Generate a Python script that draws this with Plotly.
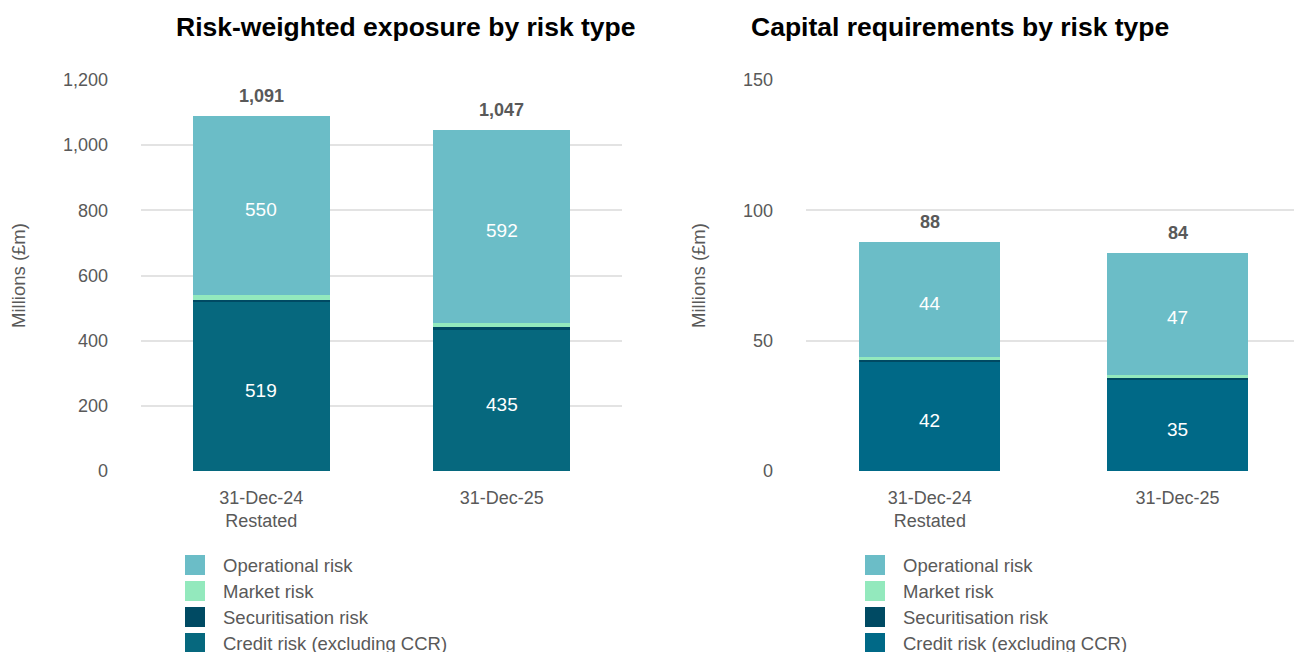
import plotly.graph_objects as go
from plotly.subplots import make_subplots

# Reporting dates
periods = ["31-Dec-24<br>Restated", "31-Dec-25"]

# Risk-weighted exposure (£m) by risk type
rwe_credit = [519, 435]
rwe_securitisation = [5, 6]
rwe_market = [17, 14]
rwe_operational = [550, 592]

# Capital requirements (£m) by risk type
cap_credit = [42, 35]
cap_securitisation = [0.5, 0.5]
cap_market = [1.3, 1.3]
cap_operational = [44, 47]

risk_names = ["Credit risk (excluding CCR)", "Securitisation risk", "Market risk", "Operational risk"]
left_colors = ["#06687e", "#004a63", "#93e9bd", "#6bbdc7"]
right_colors = ["#006987", "#004a63", "#93e9bd", "#6bbdc7"]
label_shown = [True, False, False, True]

FONT = "Liberation Sans, Arial, sans-serif"
GREY = "#595959"

W, H = 1294, 652
TOP, BOTTOM = 80, 471  # plot area pixel rows


def px(x):
    return x / W


def py(y):
    return (BOTTOM - y) / (BOTTOM - TOP)


fig = make_subplots(rows=1, cols=2, horizontal_spacing=0.14)


def add_stack(col, series, colors):
    xref = "x" if col == 1 else "x2"
    yref = "y" if col == 1 else "y2"
    base = [0.0] * len(periods)
    for name, vals, color, show in zip(risk_names, series, colors, label_shown):
        fig.add_trace(
            go.Bar(x=periods, y=vals, name=name, marker_color=color,
                   marker_line_width=0, showlegend=False, hoverinfo="y+name"),
            row=1, col=col,
        )
        if show:
            # value label in the middle of its segment
            for p, b, v in zip(periods, base, vals):
                fig.add_annotation(x=p, y=b + v / 2, xref=xref, yref=yref,
                                   text=f"{v:,.0f}", showarrow=False,
                                   yanchor="middle", yshift=-4,
                                   font=dict(color="white", size=19, family=FONT))
        base = [b + v for b, v in zip(base, vals)]
    for p, t in zip(periods, base):
        fig.add_annotation(x=p, y=t, xref=xref, yref=yref, text=f"<b>{t:,.0f}</b>",
                           showarrow=False, yanchor="middle", yshift=20,
                           font=dict(color=GREY, size=18, family=FONT))


add_stack(1, [rwe_credit, rwe_securitisation, rwe_market, rwe_operational], left_colors)
add_stack(2, [cap_credit, cap_securitisation, cap_market, cap_operational], right_colors)

fig.update_layout(
    width=W, height=H,
    barmode="stack", bargap=0.43,
    plot_bgcolor="white", paper_bgcolor="white",
    margin=dict(l=0, r=0, t=TOP, b=H - BOTTOM),
    font=dict(family=FONT, color=GREY, size=18),
    showlegend=False,
)
fig.update_xaxes(showgrid=False, showline=False, ticks="", tickfont=dict(size=18, color=GREY),
                 ticklabelstandoff=14)
fig.update_yaxes(
    showgrid=True, gridcolor="#e3e3e3", gridwidth=1.5, zeroline=False, showline=False,
    ticks="", tickfont=dict(size=18, color=GREY), ticklabelstandoff=32,
    title=dict(text="Millions (£m)", font=dict(size=18.5, color=GREY), standoff=32),
)
fig.update_layout(
    xaxis=dict(domain=[px(141), px(622)], range=[-0.5, 1.5]),
    xaxis2=dict(domain=[px(806), 1.0], range=[-0.5, 1.47]),
    yaxis=dict(range=[0, 1200], dtick=200, tickformat=","),
    yaxis2=dict(range=[0, 150], dtick=50),
)

# Titles
fig.add_annotation(text="<b>Risk-weighted exposure by risk type</b>", x=px(405), y=py(27),
                   xref="paper", yref="paper", showarrow=False,
                   xanchor="center", yanchor="middle",
                   font=dict(size=26.5, color="black", family=FONT))
fig.add_annotation(text="<b>Capital requirements by risk type</b>", x=px(960), y=py(27),
                   xref="paper", yref="paper", showarrow=False,
                   xanchor="center", yanchor="middle",
                   font=dict(size=26.5, color="black", family=FONT))


# Legends drawn as swatches with labels
def add_legend(x0, colors):
    order = [3, 2, 1, 0]
    for i, idx in enumerate(order):
        yc = 565 + 26 * i
        fig.add_shape(type="rect", xref="paper", yref="paper",
                      x0=px(x0), x1=px(x0 + 20),
                      y0=py(yc + 10), y1=py(yc - 10),
                      fillcolor=colors[idx], line_width=0)
        fig.add_annotation(text=risk_names[idx], x=px(x0 + 36), y=py(yc),
                           xref="paper", yref="paper", xanchor="left", yanchor="middle",
                           showarrow=False, font=dict(size=18.5, color=GREY, family=FONT))


add_legend(185, left_colors)
add_legend(865, right_colors)

fig.write_html("out.html")
